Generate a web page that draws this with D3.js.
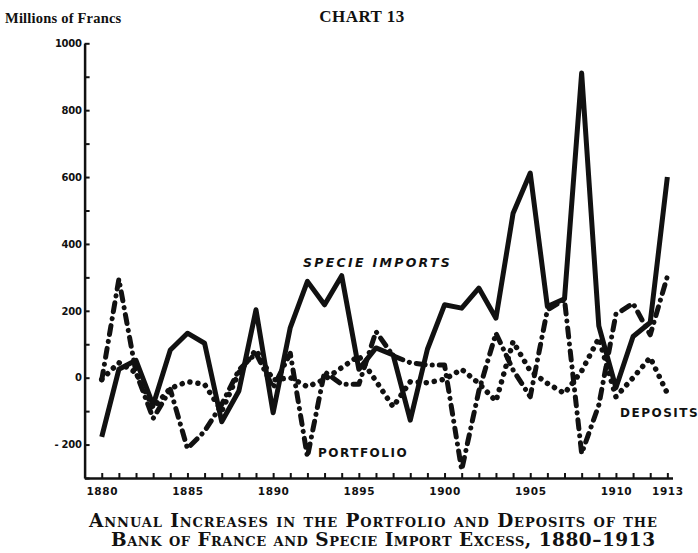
<!DOCTYPE html>
<html>
<head>
<meta charset="utf-8">
<script src="https://cdn.jsdelivr.net/npm/d3@7"></script>
<style>
  body { margin: 0; background: #fff; }
  svg { display: block; }
</style>
</head>
<body>
<div id="chart"></div>
<script>
// years 1880 - 1913
const years = d3.range(1880, 1914);

// millions of francs
const specieImports = [-177, 25, 52, -82, 83, 133, 103, -132, -40, 203,
  -105, 150, 288, 218, 305, 25, 89, 68, -127, 85,
  218, 208, 268, 178, 492, 612, 213, 236, 911, 155,
  -30, 123, 165, 600];
const portfolio = [-7, 295, 15, -122, -35, -212, -160, -80, 23, 73,
  -30, 73, -237, 18, -20, -20, 138, 65, 45, 38,
  38, -276, -40, 133, 23, -57, 203, 233, -227, -82,
  190, 222, 128, 303];
const deposits = [-5, 45, 15, -90, -32, -12, -20, -100, 15, 83,
  -7, 0, -27, -5, 30, 65, -10, -87, -12, -15,
  -5, 25, -17, -70, 108, 20, -17, -47, 20, 118,
  -57, 0, 60, -47];

const yTicks = d3.range(-300, 1001, 100);
const yLabels = [-200, 0, 200, 400, 600, 800, 1000];
const xLabels = [1880, 1885, 1890, 1895, 1900, 1905, 1910, 1913];

const width = 698, height = 553;

const svg = d3.select("#chart")
  .append("svg")
    .attr("width", width)
    .attr("height", height);

let x = d3.scaleLinear()
    .domain([1879, 1913.3])
    .range([84.6, 672.5]);

let y = d3.scaleLinear()
    .domain([-300, 1000])
    .range([478, 43.3]);

const ink = "#111";

// y axis, ticks pointing inward
let yAxis = g => g
    .attr("transform", `translate(${x(1879)},0)`)
    .call(d3.axisLeft(y)
        .tickValues(yTicks)
        .tickSizeInner(-5)
        .tickSizeOuter(0)
        .tickPadding(3)
        .tickFormat(d => yLabels.includes(d) ? (d < 0 ? "- " + Math.abs(d) : d) : ""))
    .call(g => g.select(".domain").attr("stroke", ink).attr("stroke-width", 2.5))
    .call(g => g.selectAll(".tick line").attr("stroke", ink).attr("stroke-width", 2))
    .call(g => g.selectAll(".tick text")
        .attr("fill", ink)
        .attr("font-family", "DejaVu Sans")
        .attr("font-weight", "bold")
        .attr("font-size", 10)
        .attr("letter-spacing", -0.3));

let xAxis = g => g
    .attr("transform", `translate(0,${y(-300)})`)
    .call(d3.axisBottom(x)
        .tickValues(years)
        .tickSizeInner(-5)
        .tickSizeOuter(0)
        .tickPadding(10)
        .tickFormat(d => xLabels.includes(d) ? d : ""))
    .call(g => g.select(".domain").attr("stroke", ink).attr("stroke-width", 2.5))
    .call(g => g.selectAll(".tick line").attr("stroke", ink).attr("stroke-width", 2))
    .call(g => g.selectAll(".tick text")
        .attr("fill", ink)
        .attr("font-family", "DejaVu Sans")
        .attr("font-weight", "bold")
        .attr("font-size", 10.5)
        .attr("letter-spacing", 0.6));

svg.append("g").call(yAxis);
svg.append("g").call(xAxis);

const line = d3.line()
    .x((d, i) => x(years[i]))
    .y(d => y(d));

const series = [
  {name: "specie", values: specieImports, dash: null},
  {name: "portfolio", values: portfolio, dash: "9,7,0.1,7"},
  {name: "deposits", values: deposits, dash: "0.1,8"}
];

svg.append("g")
  .selectAll("path")
  .data(series)
  .join("path")
    .attr("d", d => line(d.values))
    .attr("fill", "none")
    .attr("stroke", ink)
    .attr("stroke-width", d => d.name == "deposits" ? 5.5 : 5)
    .attr("stroke-linejoin", "round")
    .attr("stroke-linecap", d => d.dash ? "round" : "butt")
    .attr("stroke-dasharray", d => d.dash);

// series labels
const labelStyle = s => s
    .attr("fill", ink)
    .attr("font-family", "DejaVu Sans")
    .attr("font-weight", "bold")
    .attr("font-size", 12)
    .attr("letter-spacing", 1.5);

svg.append("text").attr("x", 303).attr("y", 267).text("SPECIE IMPORTS").call(labelStyle)
    .attr("font-style", "italic").attr("font-size", 12.5).attr("letter-spacing", 2.3);
svg.append("text").attr("x", 318).attr("y", 457).text("PORTFOLIO").call(labelStyle);
svg.append("text").attr("x", 620).attr("y", 417).text("DEPOSITS").call(labelStyle);

// titles
svg.append("text")
    .attr("x", 5).attr("y", 23)
    .attr("font-family", "Liberation Serif")
    .attr("font-weight", "bold")
    .attr("font-size", 14.5)
    .attr("letter-spacing", 0.2)
    .attr("fill", ink)
    .text("Millions of Francs");

svg.append("text")
    .attr("x", 362).attr("y", 22)
    .attr("text-anchor", "middle")
    .attr("font-family", "Liberation Serif")
    .attr("font-weight", "bold")
    .attr("font-size", 17)
    .attr("letter-spacing", 0.5)
    .attr("fill", ink)
    .text("CHART 13");

const caption = [
  "Annual Increases in the Portfolio and Deposits of the",
  "Bank of France and Specie Import Excess, 1880–1913"
];
const captionWidth = [568, 544];

svg.append("g")
  .selectAll("text")
  .data(caption)
  .join("text")
    .attr("x", (d, i) => i ? 383 : 373)
    .attr("y", (d, i) => 527 + i * 19)
    .attr("text-anchor", "middle")
    .attr("font-family", "DejaVu Serif")
    .attr("font-weight", "bold")
    .attr("font-size", 18.5)
    .attr("font-variant", "small-caps")
    .attr("textLength", (d, i) => captionWidth[i])
    .attr("lengthAdjust", "spacing")
    .attr("fill", ink)
    .text(d => d);
</script>
</body>
</html>
